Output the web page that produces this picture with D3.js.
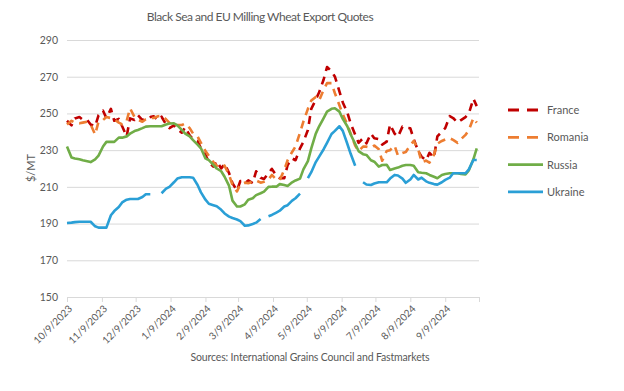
<!DOCTYPE html>
<html lang="en">
<head>
  <meta charset="utf-8">
  <title>Black Sea and EU Milling Wheat Export Quotes</title>
  <script src="https://d3js.org/d3.v7.min.js"></script>
  <style>
    body { margin: 0; background: #fff; font-family: Lato, "Liberation Sans", sans-serif; }
    svg { display: block; }
    .grid line { stroke: #d9d9d9; stroke-width: 1; }
    .grid .domain { display: none; }
    .grid text { fill: #595959; font-size: 10.5px; font-family: Lato, sans-serif; }
    .xaxis text { fill: #595959; font-size: 10px; font-family: Lato, sans-serif; }
    .xaxis line, .xaxis path { stroke: #d9d9d9; }
    .lbl { fill: #595959; }
  </style>
</head>
<body>
  <svg width="624" height="391"></svg>
  <script>
    // quotes every 3-4 days, starting 10/9/2023
    const startDate = new Date(Date.UTC(2023, 9, 9));
    const nPoints = 105;

    const france = [
      246, 243.5, 247.3, 248, 246.5, 246.4, 244, 243, 249, 251.5,
      247.5, 252.5, 246, 247, 243, 237.5, 247.3, 246.4, 249, 246.4,
      247, 248, 248.5, 246.4, 248.2, 244, 242, 243.5, 241.5, 239.5,
      242.5, 238, 236, 235, 231, 227.5, 223.5, 221, 224, 220,
      222.5, 217.5, 212, 208, 213.2, 212, 213.5, 212, 218.5, 215,
      214.3, 217.5, 219.8, 216, 214.7, 214.7, 221.9, 225.5, 224.5, 231,
      234.5, 241, 252.5, 257.5, 261.5, 268.5, 275.3, 273, 270, 262,
      256, 250.5, 244.5, 238.5, 234, 236.5, 233.7, 239, 236.5, 236,
      233, 234.6, 244, 239, 237.3, 242.8, 242.2, 241.9, 236, 229.5,
      226.4, 224.5, 228.5, 226, 237.5, 240, 242, 248.5, 247.5, 245,
      246.4, 248, 250, 258, 254
    ];
    const romania = [
      244, 246, 245, 244.6, 245, 245.5, 244, 238.5, 245.5, 246.4,
      248, 247.5, 246.8, 245, 244, 246, 252.8, 248, 246.5, 245.5,
      246.8, 247.5, 247.5, 248.5, 248.7, 246.8, 244.8, 243.7, 243.7, 243.7,
      244.5, 242, 239, 237.5, 234, 229.5, 227, 223.5, 221.5, 222.5,
      221.5, 216.5, 211, 207.5, 211.5, 212.3, 212, 212.8, 213.5, 212.3,
      212.8, 214, 216.5, 214, 213.7, 219.2, 224.5, 229, 232, 239.5,
      245.5, 252.5, 257, 259, 257, 263, 266.5, 266.5, 261, 254.5,
      249.5, 244, 239, 232.5, 229.5, 231.9, 231.9, 231.3, 232.5, 230.5,
      224.2, 229.5, 230, 232.5, 227, 228.5, 229, 232.8, 235, 230.5,
      223.5, 224.3, 223.2, 227.5, 233.5, 235, 235.8, 236.5, 235.6, 234,
      236, 238.3, 241, 247.5, 245
    ];
    const russia = [
      232, 226, 225.5, 225, 224.5, 224, 223.5, 225, 227, 232,
      234.5, 234.5, 234.5, 236.8, 236.8, 237.5, 239, 240.4, 241, 242,
      242.8, 243, 243, 243, 243, 244, 244.5, 244.6, 243.5, 241,
      239, 237.5, 235.5, 233, 231, 225.5, 224.6, 222, 220, 218.5,
      215.5, 210.5, 202.5, 199.3, 199.3, 200.5, 203, 203.8, 205.5, 206.5,
      207.4, 210, 210.1, 210.1, 211.5, 211, 210.5, 212.5, 213.5, 214.5,
      219.5, 224, 231, 239, 243, 247.5, 251, 252.5, 252.8, 251,
      247, 243, 238.5, 233.5, 229.5, 227.8, 227.4, 224.5, 223.7, 221,
      221.9, 222, 219.2, 220, 220.5, 221.5, 221.9, 221.9, 221.5, 218,
      217.7, 217.4, 216.5, 215.5, 214.7, 216.5, 217, 217.4, 217.4, 217.4,
      217, 216.8, 219, 225, 231
    ];
    const ukraine = [
      190.3, 190.5, 190.8, 191, 191, 191, 191, 188.5, 187.8, 187.8,
      187.8, 194.5, 196.8, 199, 201.5, 203, 203.4, 203.4, 203.4, 204.5,
      206, 206, null, null, 206.5, 209, 210, 212.5, 214.5, 215.2,
      215.2, 215.2, 215, 211, 207, 203, 200.8, 200, 199.4, 197.5,
      195.5, 193.8, 193, 192.2, 191.3, 188.8, 189, 189.8, 190.5, 192.5,
      null, 194, 194.7, 196, 197, 199.3, 200, 202.5, 203.8, 206.3,
      null, 214.7, 218, 223.5, 226.5, 230.5, 234, 238.8, 240.5, 243,
      240.5, 233.5, 228, 221.5, null, 212.5, 211.3, 211, 211.8, 212.5,
      212.5, 212.5, 214.5, 216.5, 216.2, 214.5, 212.2, 214, 216.5, 214,
      215, 213, 212.2, 211.5, 211.2, 212.5, 213.8, 215, 217.4, 217.4,
      217.4, 217.4, 219.5, 224.6, 224.6
    ];

    const tickLabels = ["10/9/2023", "11/9/2023", "12/9/2023", "1/9/2024", "2/9/2024", "3/9/2024",
                        "4/9/2024", "5/9/2024", "6/9/2024", "7/9/2024", "8/9/2024", "9/9/2024", ""];
    const yTicks = [150, 170, 190, 210, 230, 250, 270, 290];

    const seriesNames = ["France", "Romania", "Russia", "Ukraine"];
    const seriesValues = [france, romania, russia, ukraine];
    const colors = ["#c00000", "#ed7d31", "#70ad47", "#2a9fd6"];
    const dashed = [true, true, false, false];

    const dates = d3.range(nPoints).map(i => d3.utcDay.offset(startDate, Math.round(i * 3.5)));
    const tickDates = d3.range(tickLabels.length).map(i => d3.utcMonth.offset(startDate, i));

    const svg = d3.select("svg");
    const plotLeft = 67, plotRight = 479, plotTop = 40, plotBottom = 297;

    const x = d3.scaleUtc()
      .domain([startDate, tickDates[tickDates.length - 1]])
      .range([plotLeft, plotRight]);
    const y = d3.scaleLinear().domain([150, 290]).range([plotBottom, plotTop]);

    // title
    svg.append("text")
      .attr("x", 260).attr("y", 21)
      .attr("text-anchor", "middle")
      .attr("class", "lbl")
      .style("font-size", "12px")
      .style("letter-spacing", "-0.5px")
      .text("Black Sea and EU Milling Wheat Export Quotes");

    // gridlines + y labels
    svg.append("g")
      .attr("class", "grid")
      .attr("transform", `translate(${plotLeft},0)`)
      .call(d3.axisLeft(y).tickValues(yTicks).tickSize(-(plotRight - plotLeft)).tickPadding(9).tickFormat(d3.format("d")));

    // x axis
    const xa = svg.append("g")
      .attr("class", "xaxis")
      .attr("transform", `translate(0,${plotBottom})`)
      .call(d3.axisBottom(x).tickValues(tickDates).tickSize(5).tickFormat((d, i) => tickLabels[i]));
    xa.selectAll("text")
      .attr("x", 0).attr("y", 0).attr("dy", "0.35em")
      .attr("transform", "translate(3,10) rotate(-45)")
      .style("text-anchor", "end");

    svg.append("text")
      .attr("class", "lbl")
      .attr("transform", "translate(35,168) rotate(-90)")
      .attr("text-anchor", "middle")
      .style("font-size", "11px")
      .text("$/MT");

    svg.append("text")
      .attr("class", "lbl")
      .attr("x", 310).attr("y", 361)
      .attr("text-anchor", "middle")
      .style("font-size", "10.5px")
      .style("letter-spacing", "-0.15px")
      .text("Sources: International Grains Council and Fastmarkets");

    // lines
    const line = d3.line()
      .defined(d => d.v !== null)
      .x(d => x(d.date))
      .y(d => y(d.v));

    const plot = svg.append("g");
    seriesValues.forEach((vals, k) => {
      const pts = vals.map((v, i) => ({ date: dates[i], v: v }));
      plot.append("path")
        .datum(pts)
        .attr("fill", "none")
        .attr("stroke", colors[k])
        .attr("stroke-width", 2.6)
        .attr("stroke-linejoin", "round")
        .attr("stroke-dasharray", dashed[k] ? "8,6" : null)
        .attr("d", line);
    });

    // legend
    const legend = svg.append("g").attr("transform", "translate(508,110)");
    seriesNames.forEach((name, k) => {
      const g = legend.append("g").attr("transform", `translate(0,${k * 27.3})`);
      g.append("line")
        .attr("x1", 0).attr("x2", 35).attr("y1", 0).attr("y2", 0)
        .attr("stroke", colors[k])
        .attr("stroke-width", 2.8)
        .attr("stroke-dasharray", dashed[k] ? "11,8" : null);
      g.append("text")
        .attr("class", "lbl")
        .attr("x", 39).attr("y", 4)
        .style("font-size", "11px")
        .text(name);
    });
  </script>
</body>
</html>
